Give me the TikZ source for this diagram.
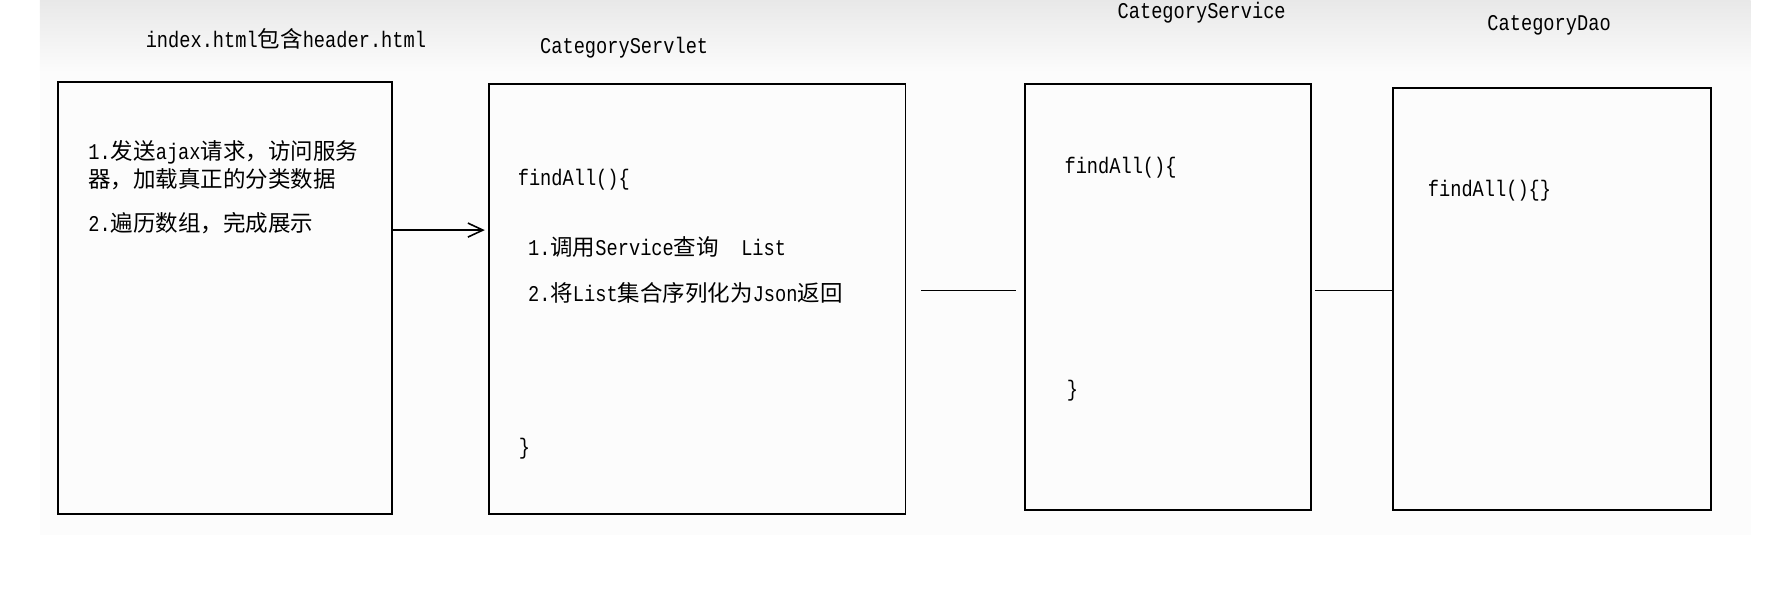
\documentclass[tikz,border=0pt]{standalone}
\usepackage{fontspec}
\setmainfont{Liberation Mono}[FakeStretch=0.83]
\newfontfamily\cjk{Noto Sans CJK SC}
\newcommand{\zh}[1]{{\cjk #1}}
\usepackage{tikz}
\usetikzlibrary{arrows.meta,positioning}

\begin{document}
\begin{tikzpicture}[x=0.1139mm, y=-0.1139mm,
    box/.style 2 args={draw, line width=0.5pt, minimum width=#1*0.1139mm, minimum height=#2*0.1139mm, inner sep=0pt},
    txt/.style={font=\fontsize{6.4}{6.6}\selectfont, inner sep=0pt, anchor=west, align=left},
    title/.style={font=\fontsize{6.4}{6.6}\selectfont, inner sep=0pt},
    link/.style={line width=0.45pt}]
    \useasboundingbox (0,0) rectangle (1568,529);

    % Background of the slide
    \fill[black!1] (35,0) rectangle (1537,470);
    \shade[top color=black!9, bottom color=black!1] (35,0) rectangle (1537,65);

    % Boxes
    \node[box={293}{379}] (index) at (197.5,261.5) {};
    \node[box={366}{377}] (servlet) at (612,262.5) {};
    \node[box={251}{374}] (service) at (1025.5,261) {};
    \node[box={279}{371}] (dao) at (1362.5,262.5) {};

    % Titles
    \node[title] (indexT) at (251,34) {index.html\zh{包含}header.html};
    \node[title] (servletT) at (548,42) {CategoryServlet};
    \node[title] (serviceT) at (1055,11) {CategoryService};
    \node[title] (daoT) at (1360,22) {CategoryDao};

    % Page code
    \node[txt] (ajax) at (77,145) {1.\zh{发送}ajax\zh{请求，访问服务}\\\zh{器，加载真正的分类数据}};
    \node[txt] (show) at (77,196) {2.\zh{遍历数组，完成展示}};

    % Servlet code
    \node[txt] (sOpen) at (454,158) {findAll()\{};
    \node[txt] (sStep1) at (463,217) {1.\zh{调用}Service\zh{查询}\ \ List};
    \node[txt] (sStep2) at (463,257) {2.\zh{将}List\zh{集合序列化为}Json\zh{返回}};
    \node[txt] (sClose) at (455,394) {\}};

    % Service code
    \node[txt] (vOpen) at (934,147) {findAll()\{};
    \node[txt] (vClose) at (936,343) {\}};

    % Dao code
    \node[txt] (dOpen) at (1253,167) {findAll()\{\}};

    % Connectors
    \coordinate (req) at (0,202);
    \coordinate (call) at (0,255);
    \draw[link, -{Straight Barb[length=1.5mm, width=1.4mm]}] (index.east |- req) -- ([xshift=-0.3mm]servlet.west |- req);
    \draw[link, shorten <=1.5mm, shorten >=0.8mm] (servlet.east |- call) -- (service.west |- call);
    \draw[link, shorten <=0.3mm] (service.east |- call) -- (dao.west |- call);
\end{tikzpicture}
\end{document}
